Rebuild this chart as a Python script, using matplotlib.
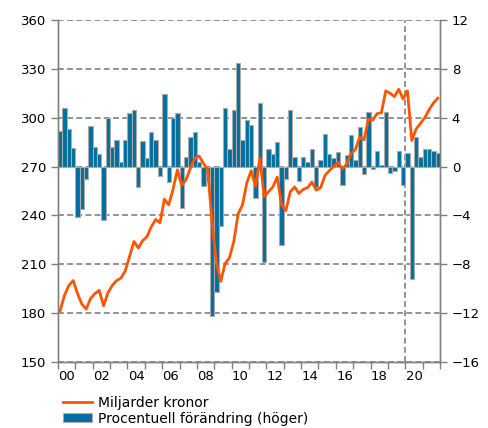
import numpy as np
import matplotlib
matplotlib.use("Agg")
import matplotlib.pyplot as plt
from matplotlib.lines import Line2D
from matplotlib.patches import Patch

# Kvartalsdata 2000K1 - 2021K4
miljarder = [181.5, 191, 197, 200, 192, 185.5, 182.5, 189, 192, 194, 184.5,
             192.5, 197, 200, 201.5, 206, 215, 224, 220, 224.5, 227, 233,
             237.5, 235.5, 250, 246.5, 256, 268, 258.5, 262, 269, 275,
             276.5, 272, 268, 235, 211, 199.5, 210.5, 214, 224, 241,
             246.5, 260, 267.5, 258, 275, 251.5, 254.5, 257.5, 263.5, 246.5,
             243, 254.5, 257.5, 253.5, 256, 257, 260.5, 255.5, 257, 264.5,
             267.5, 270, 272.5, 268.5, 271.5, 278, 280.5, 288, 286.5, 299,
             298.5, 302.5, 303, 316.5, 315, 313, 317.5, 311.5, 316.5, 286,
             293, 296.5, 300, 305, 309, 312]
procent = [2.9, 4.8, 3.1, 1.5, -4.1, -3.5, -1.0, 3.3, 1.6, 1.0, -4.4,
           4.0, 1.6, 2.2, 0.4, 2.2, 4.4, 4.6, -1.7, 2.1, 0.7, 2.8,
           2.2, -0.8, 5.9, -1.3, 4.0, 4.4, -3.4, 0.8, 2.4, 2.8,
           0.4, -1.6, -1.2, -12.2, -10.3, -4.9, 4.8, 1.4, 4.6, 8.5,
           2.2, 3.8, 3.4, -2.6, 5.2, -7.8, 1.4, 1.0, 2.0, -6.4,
           -1.0, 4.6, 0.8, -1.2, 0.75, 0.4, 1.4, -1.7, 0.5, 2.65,
           1.0, 0.7, 1.2, -1.5, 0.95, 2.6, 0.5, 3.2, -0.6, 4.45,
           -0.2, 1.3, 0.1, 4.5, -0.55, -0.4, 1.3, -1.5, 1.1, -9.2,
           2.4, 0.75, 1.45, 1.4, 1.3, 1.1]
ar_etiketter = ['00', '02', '04', '06', '08', '10', '12', '14', '16', '18', '20']

farg_linje = '#ff5500'
farg_stapel = '#006f9e'
gra = '#808080'

plt.rcParams['font.family'] = 'DejaVu Sans'
plt.rcParams['font.size'] = 9.5

x = 2000 + (np.arange(len(procent)) + 0.5) / 4

fig = plt.figure(figsize=(4.89, 4.28), dpi=100)
ax2 = fig.add_axes([0.1186, 0.1542, 0.7812, 0.7991])
ax = ax2.twinx()
ax.yaxis.tick_left()
ax.yaxis.set_label_position('left')
ax2.yaxis.tick_right()

# staplar (höger axel)
ax2.bar(x, procent, width=0.25, color=farg_stapel, edgecolor='#ababab',
        linewidth=0.8, zorder=3)
ax2.set_ylim(-16, 12)
ax2.set_yticks(np.arange(-16, 13, 4))
ax2.yaxis.grid(True, color=gra, linestyle=(0, (3.5, 2)), linewidth=1.2, zorder=0)
ax2.set_axisbelow(True)
ax2.axvline(2020, color=gra, linestyle=(0, (3.5, 2)), linewidth=1.2, zorder=1)

# linje (vänster axel)
ax.plot(x, miljarder, color=farg_linje, linewidth=2)
ax.set_ylim(150, 360)
ax.set_yticks(np.arange(150, 361, 30))
ax.set_zorder(ax2.get_zorder() + 1)
ax.patch.set_visible(False)

ax2.set_xlim(2000, 2022)
ax2.set_xticks(np.arange(2000, 2023, 1))
ax2.set_xticklabels([])
ax2.set_xticks(np.arange(2000.5, 2021, 2), minor=True)
ax2.set_xticklabels(ar_etiketter, minor=True)
ax2.tick_params(axis='x', which='major', direction='out', length=5,
                color=gra, width=1)
ax2.tick_params(axis='x', which='minor', length=0, pad=6)
ax2.tick_params(axis='y', direction='out', length=5, color=gra, width=1)
ax.tick_params(axis='y', direction='out', length=5, color=gra, width=1)

for a in (ax, ax2):
    a.spines['top'].set_visible(False)
    for s in ('left', 'right', 'bottom'):
        a.spines[s].set_color(gra)
        a.spines[s].set_linewidth(1)

handtag = [Line2D([], [], color=farg_linje, linewidth=2),
           Patch(facecolor=farg_stapel, edgecolor='#ababab', linewidth=0.8)]
fig.legend(handtag, ['Miljarder kronor', 'Procentuell förändring (höger)'],
           loc='upper left', bbox_to_anchor=(0.129, 0.075), frameon=False,
           handlelength=2.1, handleheight=0.55, handletextpad=0.45,
           labelspacing=0.12, borderaxespad=0, borderpad=0, fontsize=10)

fig.savefig('out.png', dpi=100)
